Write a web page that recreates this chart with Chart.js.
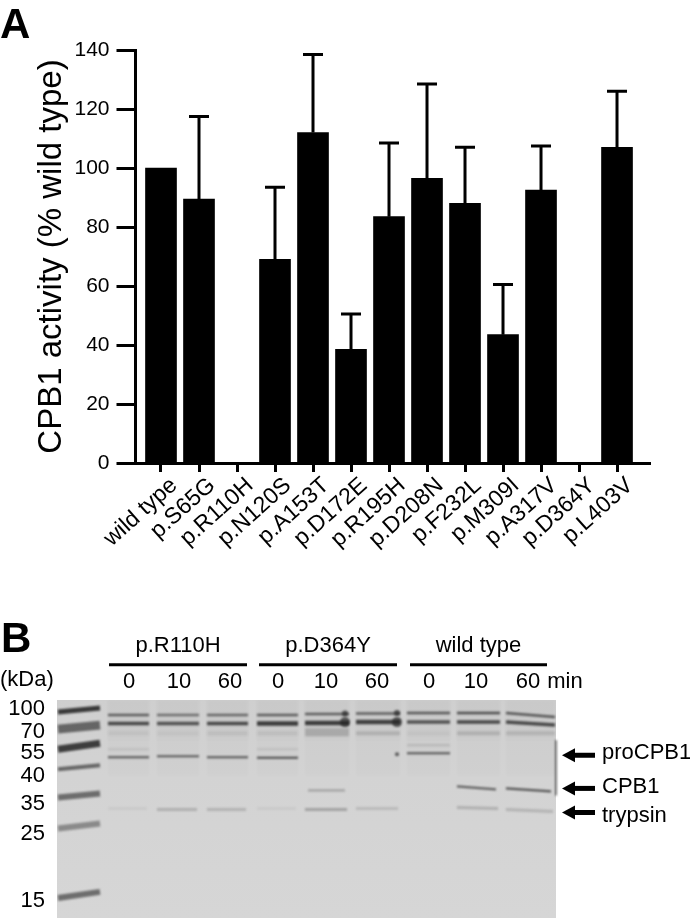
<!DOCTYPE html>
<html>
<head>
<meta charset="utf-8">
<script src="https://cdn.jsdelivr.net/npm/chart.js@4"></script>
<style>
html, body { margin: 0; padding: 0; background: #fff; }
body { width: 690px; height: 919px; position: relative; overflow: hidden; font-family: "Liberation Sans", Arial, sans-serif; color: #000; }
canvas { position: absolute; left: 0; display: block; }
.panel { position: absolute; font-weight: bold; font-size: 42px; line-height: 42px; }
#kda { position: absolute; left: 0; top: 667px; font-size: 22px; line-height: 24px; }
</style>
</head>
<body>
<canvas id="chartA" width="690" height="600" style="top:0"></canvas>
<canvas id="chartB" width="690" height="323" style="top:600px"></canvas>
<div class="panel" style="left:0;top:3px">A</div>
<div class="panel" style="left:1px;top:617px">B</div>
<div id="kda">(kDa)</div>
<script>
// panel A: activity
const categories = ["wild type", "p.S65G", "p.R110H", "p.N120S", "p.A153T", "p.D172E", "p.R195H",
    "p.D208N", "p.F232L", "p.M309I", "p.A317V", "p.D364Y", "p.L403V"];
const activity = [100, 89.5, 0, 69, 112, 38.5, 83.5, 96.5, 88, 43.5, 92.5, 0, 107];
const errorTop = [null, 117.5, null, 93.5, 138.5, 50.5, 108.5, 128.5, 107, 60.5, 107.5, null, 126];

// panel B: gel, distances measured from the top left corner of the gel
const laneLabels = ["0", "10", "60", "0", "10", "60", "0", "10", "60"];
const laneLabelX = [72, 122, 173, 221, 269, 320, 372, 419, 471];
const laneLeft = [51, 100, 150, 200, 248, 299, 350, 400, 449];
const laneRight = [92, 142, 191, 241, 292, 343, 393, 443, 498];
const groupLabels = ["p.R110H", "p.D364Y", "wild type"];
const groupStart = [52, 202, 353];
const groupEnd = [190, 340, 490];

const kdaLabels = ["100", "70", "55", "40", "35", "25", "15"];
const kdaLabelY = [9, 32, 53, 76, 103, 133, 200];
const ladderLeftY = [12, 29, 49, 69, 97, 128, 197];
const ladderRightY = [8, 25, 43, 65, 93, 123, 191];
const ladderDark = [0.88, 0.62, 0.85, 0.62, 0.58, 0.42, 0.58];

const upperY = [15, 15, 15, 15, 14, 13.5, 13, 13, 13];
const upperDark = [0.65, 0.55, 0.6, 0.65, 0.65, 0.65, 0.7, 0.75, 0.7];
const lowerY = [23.5, 23.5, 23.5, 23.5, 23, 22, 22, 22, 22];
const lowerDark = [0.78, 0.72, 0.78, 0.85, 0.85, 0.82, 0.72, 0.78, 0.78];
const smearY = [33, 33, 33, 33, 32, 33, 33, 33, 33];
const smearDark = [0.06, 0.05, 0.08, 0.08, 0.2, 0.16, 0.05, 0.16, 0.14];
const proY = [57, 56, 57, 57.5, 0, 0, 53, 0, 0];
const proDark = [0.72, 0.7, 0.72, 0.78, 0, 0, 0.72, 0, 0];
const faintY = [49, 49, 49, 49, 49, 49, 45, 49, 49];
const faintDark = [0.1, 0, 0, 0.1, 0, 0, 0.14, 0, 0];
const cpb1LeftY = [0, 0, 0, 0, 90, 0, 0, 86, 88];
const cpb1RightY = [0, 0, 0, 0, 90, 0, 0, 89, 91];
const cpb1Dark = [0, 0, 0, 0, 0.28, 0, 0, 0.65, 0.72];
const trypsinLeftY = [108, 109, 109, 108, 109, 108, 0, 107, 109];
const trypsinRightY = [108, 109, 109, 108, 109, 108, 0, 108, 111];
const trypsinDark = [0.05, 0.2, 0.18, 0.05, 0.28, 0.14, 0, 0.2, 0.18];
const blobX = [288, 288, 340, 340, 340];
const blobY = [22, 13.5, 22, 13, 54];
const blobR = [5, 3, 5, 3, 2];

const markerLabels = ["proCPB1", "CPB1", "trypsin"];
const markerY = [55, 88, 112];
const markerTextY = [53, 87, 115];

const errorBars = {
    id: "errorBars",
    afterDatasetsDraw(chart) {
        const c = chart.ctx, xs = chart.scales.x, ys = chart.scales.y;
        c.save();
        c.strokeStyle = "#000";
        c.lineWidth = 3;
        errorTop.forEach(function (top, i) {
            if (top === null) return;
            const x = xs.getPixelForValue(i);
            const y = ys.getPixelForValue(top);
            c.beginPath();
            c.moveTo(x, ys.getPixelForValue(activity[i]));
            c.lineTo(x, y);
            c.moveTo(x - 10, y);
            c.lineTo(x + 10, y);
            c.stroke();
        });
        c.restore();
    }
};

new Chart(document.getElementById("chartA").getContext("2d"), {
    type: "bar",
    data: {
        datasets: [{
            data: categories.map((name, i) => ({ x: i, y: activity[i] })),
            backgroundColor: "#000",
            barThickness: 31
        }]
    },
    options: {
        responsive: false,
        animation: false,
        layout: { padding: { top: 50, right: 40, left: 0, bottom: 0 } },
        plugins: { legend: { display: false }, tooltip: { enabled: false } },
        scales: {
            x: {
                type: "linear",
                offset: false,
                min: -0.671,
                max: 12.868,
                afterBuildTicks(scale) { scale.ticks = categories.map((n, i) => ({ value: i })); },
                afterFit(scale) { scale.height = 137; },
                border: { color: "#000", width: 3 },
                grid: { offset: false, drawOnChartArea: false, tickLength: 9, tickWidth: 3, tickColor: "#000" },
                ticks: {
                    autoSkip: false,
                    minRotation: 42,
                    maxRotation: 42,
                    labelOffset: 13,
                    padding: 0,
                    color: "#000",
                    font: { family: "Liberation Sans", size: 23 },
                    callback: (v, i) => categories[i]
                }
            },
            y: {
                min: 0,
                max: 140,
                afterFit(scale) { scale.width = 135.5; },
                border: { color: "#000", width: 3 },
                grid: { drawOnChartArea: false, tickLength: 19, tickWidth: 3, tickColor: "#000" },
                ticks: { stepSize: 20, padding: 7, color: "#000", font: { family: "Liberation Sans", size: 21 } },
                title: {
                    display: true,
                    text: "CPB1 activity (% wild type)",
                    color: "#000",
                    font: { family: "Liberation Sans", size: 33 },
                    padding: { top: 32, bottom: 0 }
                }
            }
        }
    },
    plugins: [errorBars]
});

// gel lines
function gelLine(x1, y1, x2, y2, dark, width) {
    return {
        data: [{ x: x1, y: y1 }, { x: x2, y: y2 }],
        showLine: true,
        pointRadius: 0,
        borderWidth: width,
        borderColor: "rgba(35,35,35," + dark + ")",
        borderCapStyle: "butt"
    };
}

const gelSets = [];
const ladderWidth = [5, 9, 7, 4, 6, 6, 6];
kdaLabels.forEach(function (k, i) {
    gelSets.push(gelLine(1, ladderLeftY[i], 43, ladderRightY[i], ladderDark[i], ladderWidth[i]));
});
laneLeft.forEach(function (left, i) {
    const right = laneRight[i];
    gelSets.push(gelLine((left + right) / 2, 0, (left + right) / 2, 40, 0.03, right - left));
    gelSets.push(gelLine((left + right) / 2, 40, (left + right) / 2, 75, 0.015, right - left));
    gelSets.push(gelLine(left, upperY[i], right, i === 8 ? 17 : upperY[i], upperDark[i], 2.5));
    gelSets.push(gelLine(left, lowerY[i], right, i === 8 ? 25 : lowerY[i], lowerDark[i], i >= 3 && i <= 5 ? 4.5 : 3.5));
    gelSets.push(gelLine(left, smearY[i], right, smearY[i], smearDark[i], i === 4 ? 8 : 4));
    if (proDark[i]) gelSets.push(gelLine(left, proY[i], right, proY[i], proDark[i], 2.2));
    if (faintDark[i]) gelSets.push(gelLine(left, faintY[i], right, faintY[i], faintDark[i], 2));
    if (cpb1Dark[i]) gelSets.push(gelLine(i === 4 ? left + 3 : left, cpb1LeftY[i], right - 4, cpb1RightY[i], cpb1Dark[i], 2.4));
    if (trypsinDark[i]) gelSets.push(gelLine(left, trypsinLeftY[i], right - 2, trypsinRightY[i], trypsinDark[i], 3));
});
gelSets.push({
    data: blobX.map((x, i) => ({ x: x, y: blobY[i] })),
    pointRadius: blobR,
    pointBorderWidth: 0,
    backgroundColor: "rgba(50,50,50,0.75)"
});
gelSets.push(Object.assign(gelLine(499, 40, 499, 95, 0.55, 1), { clip: false }));

const gelPlugin = {
    id: "gelPlugin",
    beforeDatasetsDraw(chart) {
        const c = chart.ctx, a = chart.chartArea;
        c.save();
        const g = c.createLinearGradient(0, a.top, 0, a.bottom);
        g.addColorStop(0, "#cfcfcf");
        g.addColorStop(0.35, "#d3d3d3");
        g.addColorStop(1, "#d6d6d6");
        c.fillStyle = g;
        c.fillRect(a.left, a.top, a.right - a.left, a.bottom - a.top);
        c.filter = "blur(0.8px)";
    },
    afterDatasetsDraw(chart) {
        const c = chart.ctx, xs = chart.scales.x, ys = chart.scales.y;
        c.restore();
        c.save();
        c.fillStyle = "#000";
        c.strokeStyle = "#000";
        c.textBaseline = "middle";
        c.font = "22px 'Liberation Sans'";

        // lane groups above the tick labels
        c.textAlign = "center";
        groupLabels.forEach(function (name, i) {
            const x1 = xs.getPixelForValue(groupStart[i]);
            const x2 = xs.getPixelForValue(groupEnd[i]);
            c.fillText(name, (x1 + x2) / 2, ys.getPixelForValue(-54));
            c.lineWidth = 3;
            c.beginPath();
            c.moveTo(x1, ys.getPixelForValue(-35));
            c.lineTo(x2, ys.getPixelForValue(-35));
            c.stroke();
        });
        c.fillText("min", xs.getPixelForValue(508), ys.getPixelForValue(-18));

        // arrows at the right of the gel
        c.textAlign = "left";
        markerLabels.forEach(function (name, i) {
            const y = ys.getPixelForValue(markerY[i]);
            const tip = xs.getPixelForValue(505);
            c.lineWidth = 5;
            c.beginPath();
            c.moveTo(tip + 8, y);
            c.lineTo(xs.getPixelForValue(538), y);
            c.stroke();
            c.beginPath();
            c.moveTo(tip, y);
            c.lineTo(tip + 13, y - 7);
            c.lineTo(tip + 13, y + 7);
            c.closePath();
            c.fill();
            c.fillText(name, xs.getPixelForValue(545), ys.getPixelForValue(markerTextY[i]));
        });
        c.restore();
    }
};

new Chart(document.getElementById("chartB").getContext("2d"), {
    type: "scatter",
    data: { datasets: gelSets },
    options: {
        responsive: false,
        animation: false,
        layout: { padding: { top: 0, right: 134, left: 0, bottom: 2 } },
        plugins: { legend: { display: false }, tooltip: { enabled: false } },
        scales: {
            x: {
                type: "linear",
                position: "top",
                min: 0,
                max: 499,
                afterBuildTicks(scale) { scale.ticks = laneLabelX.map(v => ({ value: v })); },
                afterFit(scale) { scale.height = 100; scale.paddingLeft = 0; scale.paddingRight = 0; },
                border: { display: false },
                grid: { display: false, drawTicks: false },
                ticks: {
                    autoSkip: false,
                    maxRotation: 0,
                    padding: 5,
                    color: "#000",
                    font: { family: "Liberation Sans", size: 22 },
                    callback: (v, i) => laneLabels[i]
                }
            },
            y: {
                reverse: true,
                min: 0,
                max: 217,
                afterBuildTicks(scale) { scale.ticks = kdaLabelY.map(v => ({ value: v })); },
                afterFit(scale) { scale.width = 57; scale.paddingTop = 0; scale.paddingBottom = 0; },
                border: { display: false },
                grid: { display: false, drawTicks: false },
                ticks: {
                    autoSkip: false,
                    padding: 12,
                    color: "#000",
                    font: { family: "Liberation Sans", size: 22 },
                    callback: (v, i) => kdaLabels[i]
                }
            }
        }
    },
    plugins: [gelPlugin]
});
</script>
</body>
</html>
